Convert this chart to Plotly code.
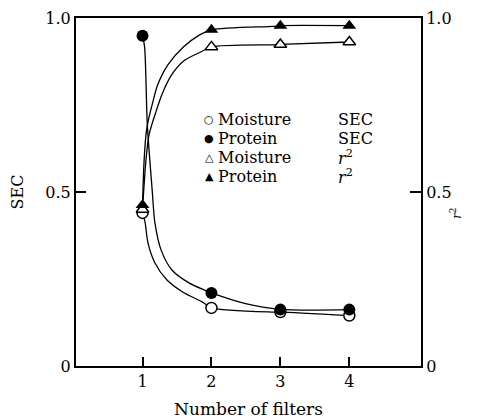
import plotly.graph_objects as go

# ---- data ----
filters = [1, 2, 3, 4]
moisture_sec = [0.44, 0.167, 0.155, 0.145]
protein_sec = [0.949, 0.210, 0.162, 0.162]
moisture_r2 = [0.45, 0.917, 0.924, 0.931]
protein_r2 = [0.463, 0.966, 0.978, 0.978]

# fitted curves
protein_sec_fit_x = [1.0, 1.03, 1.07, 1.14, 1.18, 1.27, 1.43, 1.68, 1.9, 2.0, 2.48, 3.0, 4.0]
protein_sec_fit_y = [0.949, 0.917, 0.693, 0.506, 0.411, 0.333, 0.275, 0.238, 0.218, 0.210, 0.180, 0.163, 0.162]

moisture_sec_fit_x = [1.0, 1.036, 1.08, 1.18, 1.355, 1.587, 1.877, 2.0, 2.877, 3.0, 4.0]
moisture_sec_fit_y = [0.44, 0.414, 0.353, 0.296, 0.247, 0.212, 0.183, 0.167, 0.155, 0.155, 0.145]

protein_r2_fit_x = [1.0, 1.02, 1.05, 1.08, 1.14, 1.22, 1.37, 1.6, 1.8, 2.0, 2.9, 3.0, 4.0]
protein_r2_fit_y = [0.463, 0.578, 0.664, 0.702, 0.751, 0.808, 0.866, 0.918, 0.948, 0.966, 0.976, 0.978, 0.978]

moisture_r2_fit_x = [1.0, 1.05, 1.094, 1.134, 1.181, 1.279, 1.424, 1.6, 1.85, 2.0, 2.9, 3.0, 4.0]
moisture_r2_fit_y = [0.45, 0.592, 0.664, 0.693, 0.722, 0.779, 0.837, 0.877, 0.903, 0.917, 0.923, 0.924, 0.931]

y_tickvals = [0, 0.5, 1.0]
y_ticktext = ["0", "0.5", "1.0"]
x_tickvals = [1, 2, 3, 4]

legend_rows = [
    ("○", "Moisture", "SEC"),
    ("●", "Protein", "SEC"),
    ("△", "Moisture", "<i>r</i><sup>2</sup>"),
    ("▲", "Protein", "<i>r</i><sup>2</sup>"),
]

FONT = "DejaVu Serif"
fig = go.Figure()

line_style = dict(color="black", width=1.3, shape="spline", smoothing=0.8)
for fx, fy in [(protein_sec_fit_x, protein_sec_fit_y),
               (moisture_sec_fit_x, moisture_sec_fit_y),
               (protein_r2_fit_x, protein_r2_fit_y),
               (moisture_r2_fit_x, moisture_r2_fit_y)]:
    fig.add_trace(go.Scatter(x=fx, y=fy, mode="lines", line=line_style,
                             showlegend=False, hoverinfo="skip"))

fig.add_trace(go.Scatter(x=filters, y=moisture_sec, mode="markers", showlegend=False,
                         marker=dict(symbol="circle", size=11, color="white",
                                     line=dict(color="black", width=1.5))))
fig.add_trace(go.Scatter(x=filters, y=protein_sec, mode="markers", showlegend=False,
                         marker=dict(symbol="circle", size=12, color="black",
                                     line=dict(color="black", width=0))))
fig.add_trace(go.Scatter(x=filters, y=moisture_r2, mode="markers", showlegend=False,
                         yaxis="y2",
                         marker=dict(symbol="triangle-up", size=11, color="white",
                                     line=dict(color="black", width=1.5))))
fig.add_trace(go.Scatter(x=filters, y=protein_r2, mode="markers", showlegend=False,
                         yaxis="y2",
                         marker=dict(symbol="triangle-up", size=12, color="black",
                                     line=dict(color="black", width=0))))

annotations = []
row_y = [0.707, 0.655, 0.600, 0.545]
for (sym, name, kind), yy in zip(legend_rows, row_y):
    annotations.append(dict(x=0.403, y=yy, xref="paper", yref="paper", text=sym,
                            showarrow=False, xanchor="right", yanchor="middle",
                            borderpad=0,
                            font=dict(family="DejaVu Sans", size=11, color="black")))
    annotations.append(dict(x=0.41, y=yy, xref="paper", yref="paper", text=name,
                            showarrow=False, xanchor="left", yanchor="middle",
                            borderpad=0,
                            font=dict(family=FONT, size=16, color="black")))
    annotations.append(dict(x=0.756, y=yy, xref="paper", yref="paper", text=kind,
                            showarrow=False, xanchor="left", yanchor="middle",
                            borderpad=0,
                            font=dict(family=FONT, size=16, color="black")))

annotations.append(dict(x=1.13, y=0.44, xref="paper", yref="paper",
                        text="<i>r</i><sup>2</sup>", textangle=-90, showarrow=False,
                        font=dict(family=FONT, size=12, color="black")))

fig.update_layout(
    width=478, height=420,
    margin=dict(l=68, r=65, t=10, b=62),
    paper_bgcolor="white", plot_bgcolor="white",
    font=dict(family=FONT, size=16, color="black"),
    xaxis=dict(range=[0.035, 5.04], tickvals=x_tickvals, ticks="inside", ticklen=9,
               tickwidth=2, tickcolor="black", showline=True, linecolor="black",
               linewidth=2, mirror=True, showgrid=False, zeroline=False,
               automargin=False,
               title=dict(text="Number of filters", font=dict(family=FONT, size=17),
                          standoff=13),
               tickfont=dict(family=FONT, size=16)),
    yaxis=dict(range=[0, 1], tickvals=y_tickvals, ticktext=y_ticktext, ticks="inside",
               ticklen=10, tickwidth=2, tickcolor="black", showline=True,
               linecolor="black", linewidth=2, showgrid=False, zeroline=False,
               automargin=False,
               title=dict(text="SEC", font=dict(family=FONT, size=16), standoff=21),
               tickfont=dict(family=FONT, size=16)),
    yaxis2=dict(range=[0, 1], tickvals=y_tickvals, ticktext=y_ticktext, ticks="inside",
                ticklen=11, tickwidth=2, tickcolor="black", showline=True,
                linecolor="black", linewidth=2, showgrid=False, zeroline=False,
                automargin=False,
                overlaying="y", side="right", tickfont=dict(family=FONT, size=16)),
    annotations=annotations,
)

fig.write_html("out.html")
